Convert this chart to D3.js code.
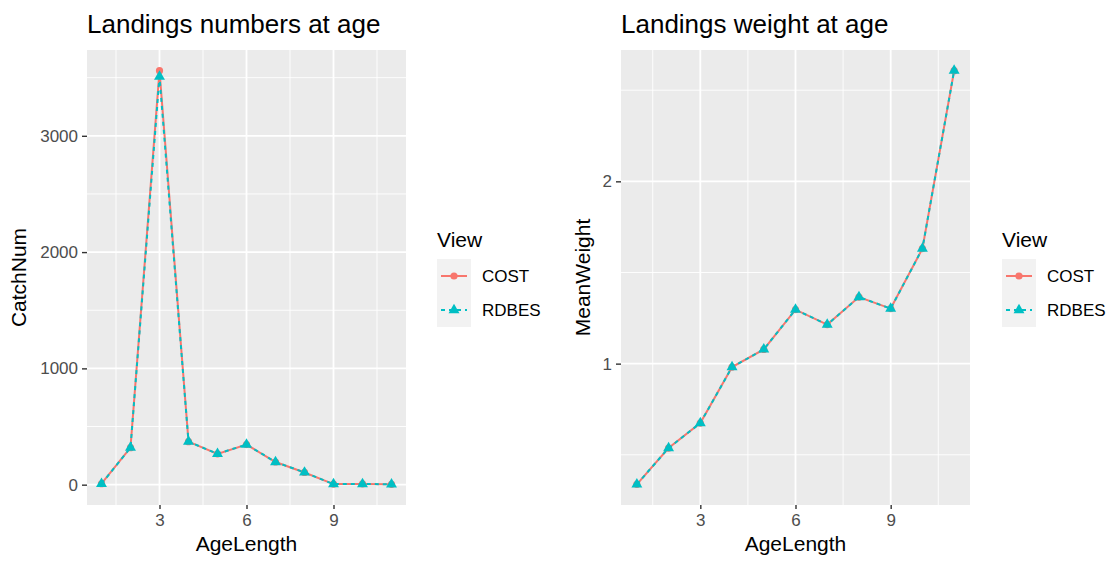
<!DOCTYPE html>
<html>
<head>
<meta charset="utf-8">
<script src="https://cdn.jsdelivr.net/npm/d3@7"></script>
<style>
  html, body { margin: 0; padding: 0; background: #ffffff; }
  svg { display: block; font-family: "Liberation Sans", Arial, sans-serif; }
</style>
</head>
<body>
<svg id="chart" width="1110" height="561"></svg>
<script>
// ---- data ----
const ages = [1, 2, 3, 4, 5, 6, 7, 8, 9, 10, 11];
const costCatchNum  = [8, 318, 3560, 370, 265, 345, 195, 105, 5, 6, 3];
const rdbesCatchNum = [8, 318, 3510, 370, 265, 345, 195, 105, 5, 6, 3];
const costMeanWeight  = [0.338, 0.537, 0.674, 0.981, 1.078, 1.296, 1.214, 1.365, 1.302, 1.631, 2.607];
const rdbesMeanWeight = [0.338, 0.537, 0.674, 0.981, 1.078, 1.296, 1.214, 1.365, 1.302, 1.631, 2.607];
const seriesNames = ["COST", "RDBES"];
const xTicks = [3, 6, 9];
const xMinor = [1.5, 4.5, 7.5, 10.5];
const catchTicks = [0, 1000, 2000, 3000];
const catchMinor = [500, 1500, 2500, 3500];
const weightTicks = [1, 2];
const weightMinor = [0.5, 1.5, 2.5];
const titles = ["Landings numbers at age", "Landings weight at age"];
const yTitles = ["CatchNum", "MeanWeight"];
const xTitle = "AgeLength";
const legendTitle = "View";

// ---- style ----
const colors = { COST: "#F8766D", RDBES: "#00BFC4" };
const svg = d3.select("#chart");

function drawPanel(cfg) {
  const { left, right, top, bottom } = cfg;
  const g = svg.append("g");
  const allVals = cfg.series.flat();
  const lo = d3.min(allVals), hi = d3.max(allVals);
  const pad = (hi - lo) * 0.05;
  const x = d3.scaleLinear().domain([0.5, 11.5]).range([left, right]);
  const y = d3.scaleLinear().domain([lo - pad, hi + pad]).range([bottom, top]);

  // panel background
  g.append("rect").attr("x", left).attr("y", top)
    .attr("width", right - left).attr("height", bottom - top).attr("fill", "#EBEBEB");

  // minor grid
  g.selectAll(".vminor").data(cfg.xMinor).enter().append("line")
    .attr("x1", d => x(d)).attr("x2", d => x(d)).attr("y1", top).attr("y2", bottom)
    .attr("stroke", "#ffffff").attr("stroke-width", 0.9);
  g.selectAll(".hminor").data(cfg.yMinor.filter(d => y(d) >= top && y(d) <= bottom)).enter().append("line")
    .attr("x1", left).attr("x2", right).attr("y1", d => y(d)).attr("y2", d => y(d))
    .attr("stroke", "#ffffff").attr("stroke-width", 0.9);
  // major grid
  g.selectAll(".vmajor").data(cfg.xTicks).enter().append("line")
    .attr("x1", d => x(d)).attr("x2", d => x(d)).attr("y1", top).attr("y2", bottom)
    .attr("stroke", "#ffffff").attr("stroke-width", 1.8);
  g.selectAll(".hmajor").data(cfg.yTicks).enter().append("line")
    .attr("x1", left).attr("x2", right).attr("y1", d => y(d)).attr("y2", d => y(d))
    .attr("stroke", "#ffffff").attr("stroke-width", 1.8);

  // axes
  const xAxis = d3.axisBottom(x).tickValues(cfg.xTicks).tickSize(4).tickPadding(5);
  const xg = g.append("g").attr("transform", `translate(0,${bottom})`).call(xAxis);
  const yAxis = d3.axisLeft(y).tickValues(cfg.yTicks).tickSize(5).tickPadding(4).tickFormat(d3.format("d"));
  const yg = g.append("g").attr("transform", `translate(${left},0)`).call(yAxis);
  [xg, yg].forEach(a => {
    a.select(".domain").remove();
    a.selectAll(".tick line").attr("stroke", "#333333").attr("stroke-width", 1.4);
    a.selectAll(".tick text").attr("fill", "#4D4D4D").style("font-size", "17px")
      .style("font-family", "\"Liberation Sans\", Arial, sans-serif");
  });

  // lines & points
  const line = d3.line().x((d, i) => x(ages[i])).y(d => y(d));
  // COST solid
  g.append("path").datum(cfg.series[0]).attr("d", line)
    .attr("fill", "none").attr("stroke", colors.COST).attr("stroke-width", 2);
  g.selectAll(".costpt").data(cfg.series[0]).enter().append("circle")
    .attr("cx", (d, i) => x(ages[i])).attr("cy", d => y(d)).attr("r", 3.6)
    .attr("fill", colors.COST);
  // RDBES dashed
  g.append("path").datum(cfg.series[1]).attr("d", line)
    .attr("fill", "none").attr("stroke", colors.RDBES).attr("stroke-width", 2)
    .attr("stroke-dasharray", "4,4");
  const tri = d3.symbol().type(d3.symbolTriangle).size(52);
  g.selectAll(".rdbespt").data(cfg.series[1]).enter().append("path")
    .attr("d", tri)
    .attr("transform", (d, i) => `translate(${x(ages[i])},${y(d)})`)
    .attr("fill", colors.RDBES);

  // title
  g.append("text").attr("x", left).attr("y", 33).text(cfg.title)
    .style("font-size", "26px").attr("fill", "#000000");
  // axis titles
  g.append("text").attr("x", (left + right) / 2).attr("y", 551).attr("text-anchor", "middle")
    .text(xTitle).style("font-size", "21px").attr("fill", "#000000");
  g.append("text").attr("transform", `translate(${cfg.yTitleX},${(top + bottom) / 2}) rotate(-90)`)
    .attr("text-anchor", "middle").text(cfg.yTitle).style("font-size", "21px").attr("fill", "#000000");

  // legend
  const lx = cfg.legendX;
  const lg = g.append("g");
  lg.append("text").attr("x", lx).attr("y", 247).text(legendTitle)
    .style("font-size", "21px").attr("fill", "#000000");
  const keyW = 34, keyH = 34, keyTop = 259;
  seriesNames.forEach((name, k) => {
    const ky = keyTop + k * keyH;
    lg.append("rect").attr("x", lx).attr("y", ky).attr("width", keyW).attr("height", keyH)
      .attr("fill", "#F2F2F2");
    const cy = ky + keyH / 2;
    lg.append("line").attr("x1", lx + 4).attr("x2", lx + keyW - 4).attr("y1", cy).attr("y2", cy)
      .attr("stroke", colors[name]).attr("stroke-width", 2)
      .attr("stroke-dasharray", name === "RDBES" ? "4,4" : null);
    if (name === "COST") {
      lg.append("circle").attr("cx", lx + keyW / 2).attr("cy", cy).attr("r", 3.6).attr("fill", colors[name]);
    } else {
      lg.append("path").attr("d", tri).attr("transform", `translate(${lx + keyW / 2},${cy})`).attr("fill", colors[name]);
    }
    lg.append("text").attr("x", lx + keyW + 11).attr("y", cy + 6).text(name)
      .style("font-size", "17px").attr("fill", "#000000");
  });
}

drawPanel({
  left: 87, right: 406, top: 50, bottom: 505,
  series: [costCatchNum, rdbesCatchNum],
  xTicks: xTicks, xMinor: xMinor, yTicks: catchTicks, yMinor: catchMinor,
  title: titles[0], yTitle: yTitles[0], yTitleX: 26, legendX: 437
});
drawPanel({
  left: 621, right: 970, top: 50, bottom: 505,
  series: [costMeanWeight, rdbesMeanWeight],
  xTicks: xTicks, xMinor: xMinor, yTicks: weightTicks, yMinor: weightMinor,
  title: titles[1], yTitle: yTitles[1], yTitleX: 590, legendX: 1002
});
</script>
</body>
</html>
